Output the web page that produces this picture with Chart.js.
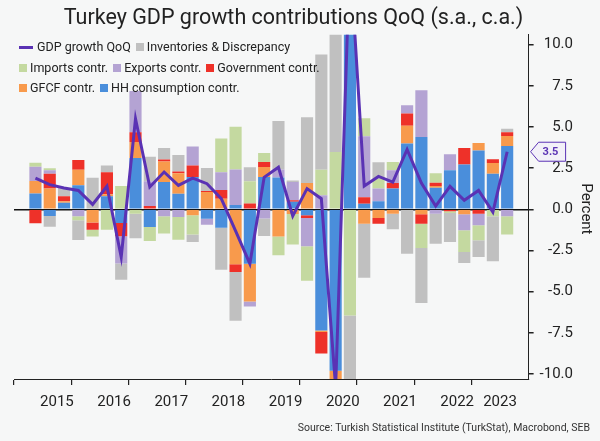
<!DOCTYPE html>
<html>
<head>
<meta charset="utf-8">
<script src="https://cdn.jsdelivr.net/npm/chart.js@4.4.1/dist/chart.umd.min.js"></script>
<style>
  body { margin: 0; background: #f6f7f7; font-family: Roboto, sans-serif; }
  #wrap { position: relative; width: 600px; height: 441px; }
  #legend { position: absolute; left: 19px; top: 37px; font-size: 12.5px; color: #222; line-height: 20.5px; }
  .row { white-space: nowrap; }
  .item { display: inline-block; margin-right: 5px; }
  .sw { display: inline-block; width: 8px; height: 8px; margin-right: 3px; }
  .ln { display: inline-block; width: 14px; height: 3px; margin-right: 4px; vertical-align: middle; }
  #source { position: absolute; right: 10px; top: 421px; font-size: 10.5px; color: #333; }
</style>
</head>
<body>
<div id="wrap">
  <canvas id="chart"></canvas>
  <div id="legend"></div>
  <div id="source">Source: Turkish Statistical Institute (TurkStat), Macrobond, SEB</div>
</div>
<script>
const quarters = [
  "2015Q1", "2015Q2", "2015Q3", "2015Q4", "2016Q1", "2016Q2", "2016Q3", "2016Q4",
  "2017Q1", "2017Q2", "2017Q3", "2017Q4", "2018Q1", "2018Q2", "2018Q3", "2018Q4",
  "2019Q1", "2019Q2", "2019Q3", "2019Q4", "2020Q1", "2020Q2", "2020Q3", "2020Q4",
  "2021Q1", "2021Q2", "2021Q3", "2021Q4", "2022Q1", "2022Q2", "2022Q3", "2022Q4",
  "2023Q1", "2023Q2"
];
const years = ["2015", "2016", "2017", "2018", "2019", "2020", "2021", "2022", "2023"];

const hhCons = [0.97, -0.4, 0.4, 1.46, 0, 0.8, -0.83, 3.12, -1.07, 1.66, 0.95, 1.96, -0.57, -1.12, 0.26, -3.3, 1.97, 1.94, 0.46, -0.36, -7.35, -9.8, 20, 0.34, 0.49, 1.26, 4.0, 4.4, 1.32, 2.37, 2.73, 3.58, 2.17, 3.85];
const gfcf = [0.75, 1.27, 0.1, 0.94, -0.8, 0.12, 0, 0.97, 0, 1.25, 1.25, -0.36, 1.06, 0.65, -3.33, -2.3, 0.6, -1.64, -0.28, 1.6, -0.1, -2.5, 3, -0.87, -0.53, -0.26, 1.07, -0.3, 0.1, 0, -0.3, 0.45, 0.65, 0.6];
const govt = [-0.85, 0.9, 0.3, 0.6, -0.44, 1.34, -0.8, 0.6, 0.2, 0.12, 0.1, 0.7, 0.05, 0.52, -0.47, 0.35, 0.3, 0, 0.1, -0.16, -1.3, -0.2, 0.5, 0.4, -0.34, 0.34, 0.75, -0.57, 0.2, -0.12, 1.0, -0.26, 0.22, 0.24];
const exportsC = [0.87, 0.2, 0, -0.42, 0, 0, -1.65, 2.5, 1.5, -0.42, -0.47, 1.15, -0.36, 1.09, 2.16, -0.3, -0.55, 0.48, 1.1, -1.72, 0.85, -9.8, 2.5, 3.7, 0.77, 0.77, 0.5, 2.83, -0.26, 0.97, -0.97, -0.71, 0, -0.42];
const importsC = [0.24, 0.12, 0, -0.24, -0.4, -1.24, 1.42, -0.26, -0.85, -1.05, -1.38, -1.17, 0, 2.04, 2.6, 1.35, 0.55, -1.14, -1.85, -2.1, 1.56, 3.48, -6.44, 1.1, 0.6, 0.5, 0, -1.48, 0.57, -0.1, -1.32, -0.91, -0.42, -1.11];
const inventories = [0, -0.65, 0.5, -1.2, 1.92, 0.4, -1.0, -1.5, 1.5, 0.69, 1.0, -0.45, 1.4, -2.54, -2.97, 0.85, -1.07, 2.95, 0.1, 4.0, 7.0, 8.0, -4.05, -3.28, 1.0, -0.95, -2.7, -3.34, -1.82, -1.76, -0.67, -1.01, -2.73, 0.2];
const gdp = [1.9, 1.5, 1.3, 1.15, 0.3, 1.4, -2.9, 5.5, 1.36, 2.27, 1.46, 1.9, 1.56, 0.65, -1.3, -3.3, 1.95, 2.56, -0.4, 1.26, 0.65, -10.8, 15.5, 1.42, 2.0, 1.66, 3.64, 1.6, 0.2, 1.4, 0.55, 1.15, -0.16, 3.5];

const yTicks = [-10, -7.5, -5, -2.5, 0, 2.5, 5, 7.5, 10];

const purple = "#5a32b4";

// year boundaries and year label positions, in quarters
const yearStart = years.map(y => quarters.findIndex(q => q.startsWith(y)));
const yearMid = years.map(y => {
  const first = quarters.findIndex(q => q.startsWith(y));
  const count = quarters.filter(q => q.startsWith(y)).length;
  return first + count / 2;
});
const xTicks = [...new Set([...yearStart, ...yearMid])].sort((a, b) => a - b);

const pts = arr => arr.map((v, i) => ({ x: i + 0.5, y: v }));

function bar(label, data, color) {
  return {
    type: "bar", label, data: pts(data), backgroundColor: color,
    stack: "parts", barPercentage: 0.85, categoryPercentage: 1, borderWidth: 0
  };
}

const series = [
  { type: "line", label: "GDP growth QoQ", data: pts(gdp), borderColor: purple, backgroundColor: purple,
    borderWidth: 3, pointRadius: 0, stack: "gdp", tension: 0 },
  bar("HH consumption contr.", hhCons, "#4a8edb"),
  bar("GFCF contr.", gfcf, "#f89a4c"),
  bar("Government contr.", govt, "#ee3129"),
  bar("Exports contr.", exportsC, "#b4a3d3"),
  bar("Imports contr.", importsC, "#c4d9a0"),
  bar("Inventories & Discrepancy", inventories, "#c0c0c0")
];

// legend rows as in the original
const legendRows = [
  ["GDP growth QoQ", "Inventories & Discrepancy"],
  ["Imports contr.", "Exports contr.", "Government contr."],
  ["GFCF contr.", "HH consumption contr."]
];
document.getElementById("legend").innerHTML = legendRows.map(row =>
  '<div class="row">' + row.map(name => {
    const ds = series.find(s => s.label === name);
    const mark = ds.type === "line"
      ? `<span class="ln" style="background:${ds.borderColor}"></span>`
      : `<span class="sw" style="background:${ds.backgroundColor}"></span>`;
    return `<span class="item">${mark}${name}</span>`;
  }).join("") + "</div>"
).join("");

// tag with the latest GDP value on the right axis, plus the axis name
const rightAxisExtras = {
  id: "rightAxisExtras",
  afterDraw(chart) {
    const ctx = chart.ctx;
    const area = chart.chartArea;
    const v = gdp[gdp.length - 1];
    const y = chart.scales.y.getPixelForValue(v);
    const x = area.right + 2;
    ctx.save();
    ctx.beginPath();
    ctx.moveTo(x, y);
    ctx.lineTo(x + 8, y - 9.5);
    ctx.lineTo(x + 35, y - 9.5);
    ctx.lineTo(x + 35, y + 9.5);
    ctx.lineTo(x + 8, y + 9.5);
    ctx.closePath();
    ctx.fillStyle = "#f2f0f8";
    ctx.fill();
    ctx.strokeStyle = purple;
    ctx.lineWidth = 1;
    ctx.stroke();
    ctx.fillStyle = purple;
    ctx.font = "bold 11px Roboto";
    ctx.textBaseline = "middle";
    ctx.fillText(v.toFixed(1), x + 12, y + 0.5);

    ctx.translate(chart.scales.y.right + 13, (area.top + area.bottom) / 2 + 2);
    ctx.rotate(Math.PI / 2);
    ctx.fillStyle = "#222";
    ctx.font = "15px Roboto";
    ctx.textAlign = "center";
    ctx.fillText("Percent", 0, 0);
    ctx.restore();
  }
};

Chart.defaults.font.family = "Roboto";
Chart.defaults.color = "#222";

new Chart(document.getElementById("chart"), {
  data: { datasets: series },
  options: {
    responsive: true,
    maintainAspectRatio: false,
    animation: false,
    layout: { padding: { left: 14, right: 27, top: 0, bottom: 22 } },
    plugins: {
      legend: { display: false },
      tooltip: { enabled: false },
      title: {
        display: true, text: "Turkey GDP growth contributions QoQ (s.a., c.a.)",
        font: { size: 21.5, weight: "normal" }, color: "#222", padding: { top: 6, bottom: 3 }
      }
    },
    scales: {
      x: {
        type: "linear", min: 0, max: quarters.length, stacked: true,
        afterBuildTicks: axis => { axis.ticks = xTicks.map(v => ({ value: v })); },
        ticks: {
          autoSkip: false, maxRotation: 0, font: { size: 15 }, padding: 8,
          callback: v => { const k = yearMid.indexOf(v); return k >= 0 ? years[k] : ""; }
        },
        grid: {
          drawOnChartArea: false, tickLength: 6, lineWidth: 1.2,
          tickColor: c => c.tick && yearStart.includes(c.tick.value) ? "#222" : "rgba(0,0,0,0)"
        },
        border: { color: "#222" }
      },
      y: {
        position: "right", stacked: true, min: -10.3, max: 10.6, z: 1,
        afterBuildTicks: axis => { axis.ticks = yTicks.map(v => ({ value: v })); },
        ticks: { font: { size: 15 }, crossAlign: "far", padding: 3, callback: v => v.toFixed(1) },
        grid: {
          color: c => c.tick && c.tick.value === 0 ? "#111" : "rgba(0,0,0,0)",
          tickColor: "#222", tickLength: 5, lineWidth: 1.5
        },
        border: { color: "#222" }
      }
    }
  },
  plugins: [rightAxisExtras]
});
</script>
</body>
</html>
